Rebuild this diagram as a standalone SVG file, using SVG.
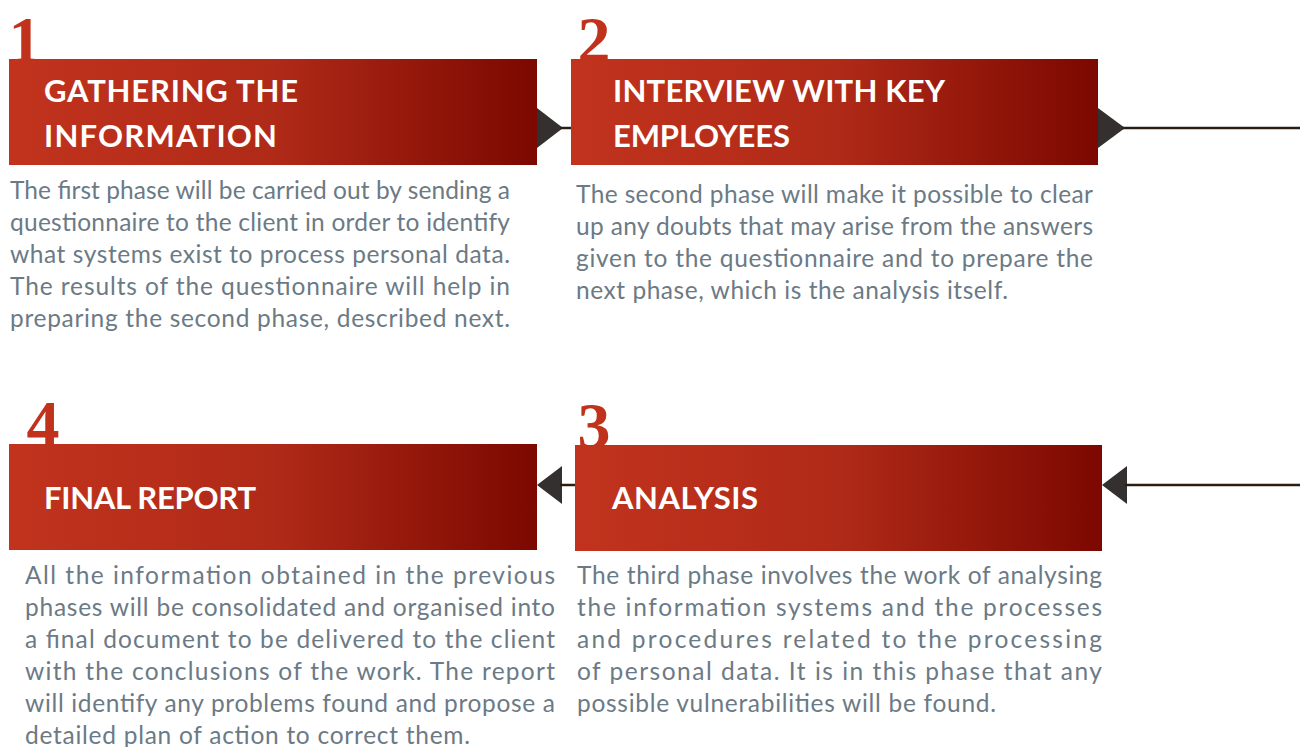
<svg xmlns="http://www.w3.org/2000/svg" width="1300" height="747" viewBox="0 0 1300 747">
<defs>
<linearGradient id="boxgrad" x1="0" y1="0" x2="1" y2="0">
<stop offset="0" stop-color="#c1331d"/>
<stop offset="0.5" stop-color="#b02a18"/>
<stop offset="1" stop-color="#7c0800"/>
</linearGradient>
<style>
.num{font-family:"Liberation Serif","Times New Roman",serif;font-size:66px;font-weight:bold;fill:#c0321c;text-anchor:middle}
.box{fill:url(#boxgrad)}
.title{font-family:Lato,"Open Sans",sans-serif;font-weight:bold;font-size:31px;fill:#ffffff}
.body{font-family:Lato,"Open Sans",sans-serif;font-size:24.5px;fill:#6b7a85}
.line{stroke:#2b1d12;stroke-width:2.5;fill:none}
.head{fill:#353030}
</style>
</defs>
<rect width="1300" height="747" fill="#ffffff"/>

<g id="connectors">
<polygon class="head" points="537,108 563,128 537,148"/>
<line class="line" x1="560" y1="128" x2="571" y2="128"/>
<polygon class="head" points="1098,108 1125,128 1098,148"/>
<line class="line" x1="1122" y1="128" x2="1300" y2="128"/>
<polygon class="head" points="537,485 562,466 562,504"/>
<line class="line" x1="560" y1="485" x2="575" y2="485"/>
<polygon class="head" points="1102,485 1127,466 1127,504"/>
<line class="line" x1="1125" y1="485" x2="1300" y2="485"/>
</g>

<g id="phase1">
<text class="num" x="25" y="62">1</text>
<rect class="box" x="9" y="59" width="528" height="106"/>
<text class="title" x="44" y="102" textLength="254" lengthAdjust="spacing">GATHERING THE</text>
<text class="title" x="44" y="147" textLength="233" lengthAdjust="spacing">INFORMATION</text>
<text class="body" x="10" y="199" textLength="500" lengthAdjust="spacing">The first phase will be carried out by sending a</text>
<text class="body" x="10" y="231" textLength="500" lengthAdjust="spacing">questionnaire to the client in order to identify</text>
<text class="body" x="10" y="263" textLength="500" lengthAdjust="spacing">what systems exist to process personal data.</text>
<text class="body" x="10" y="295" textLength="500" lengthAdjust="spacing">The results of the questionnaire will help in</text>
<text class="body" x="10" y="327" textLength="500" lengthAdjust="spacing">preparing the second phase, described next.</text>
</g>

<g id="phase2">
<text class="num" x="594" y="62">2</text>
<rect class="box" x="571" y="59" width="527" height="106"/>
<text class="title" x="613" y="102" textLength="332" lengthAdjust="spacing">INTERVIEW WITH KEY</text>
<text class="title" x="613" y="147" textLength="177" lengthAdjust="spacing">EMPLOYEES</text>
<text class="body" x="576" y="203" textLength="517" lengthAdjust="spacing">The second phase will make it possible to clear</text>
<text class="body" x="576" y="235" textLength="517" lengthAdjust="spacing">up any doubts that may arise from the answers</text>
<text class="body" x="576" y="267" textLength="517" lengthAdjust="spacing">given to the questionnaire and to prepare the</text>
<text class="body" x="576" y="299" textLength="432" lengthAdjust="spacing">next phase, which is the analysis itself.</text>
</g>

<g id="phase3">
<text class="num" x="594" y="448">3</text>
<rect class="box" x="575" y="445" width="527" height="106"/>
<text class="title" x="612" y="509" textLength="146" lengthAdjust="spacing">ANALYSIS</text>
<text class="body" x="577" y="584" textLength="525" lengthAdjust="spacing">The third phase involves the work of analysing</text>
<text class="body" x="577" y="616" textLength="525" lengthAdjust="spacing">the information systems and the processes</text>
<text class="body" x="577" y="648" textLength="525" lengthAdjust="spacing">and procedures related to the processing</text>
<text class="body" x="577" y="680" textLength="525" lengthAdjust="spacing">of personal data. It is in this phase that any</text>
<text class="body" x="577" y="712" textLength="419" lengthAdjust="spacing">possible vulnerabilities will be found.</text>
</g>

<g id="phase4">
<text class="num" x="43" y="446">4</text>
<rect class="box" x="9" y="444" width="528" height="106"/>
<text class="title" x="44" y="509" textLength="212" lengthAdjust="spacing">FINAL REPORT</text>
<text class="body" x="25" y="584" textLength="530" lengthAdjust="spacing">All the information obtained in the previous</text>
<text class="body" x="25" y="616" textLength="530" lengthAdjust="spacing">phases will be consolidated and organised into</text>
<text class="body" x="25" y="648" textLength="530" lengthAdjust="spacing">a final document to be delivered to the client</text>
<text class="body" x="25" y="680" textLength="530" lengthAdjust="spacing">with the conclusions of the work. The report</text>
<text class="body" x="25" y="712" textLength="530" lengthAdjust="spacing">will identify any problems found and propose a</text>
<text class="body" x="25" y="744" textLength="445" lengthAdjust="spacing">detailed plan of action to correct them.</text>
</g>
</svg>
